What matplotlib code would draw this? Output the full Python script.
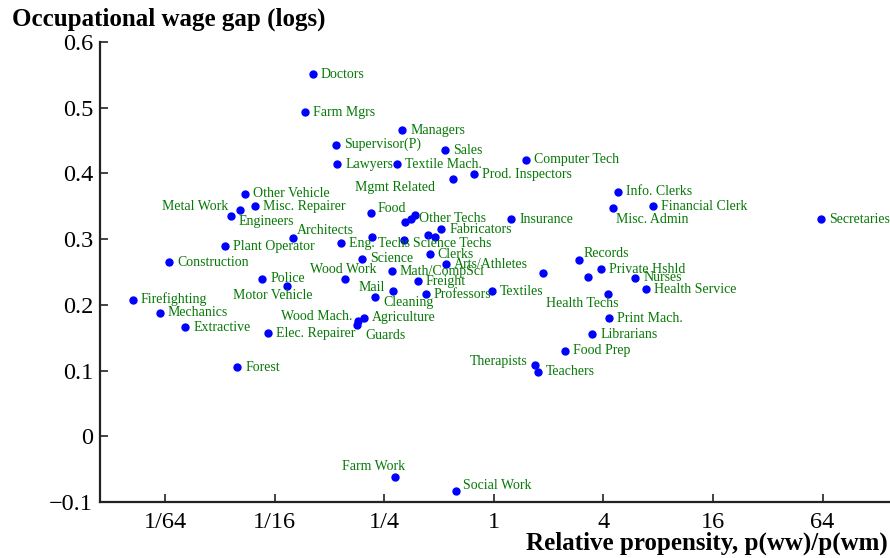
import matplotlib
matplotlib.use("Agg")
import matplotlib.pyplot as plt

plt.rcParams['font.family'] = ['Liberation Serif', 'DejaVu Serif']

# occupations: relative propensity p(ww)/p(wm) and wage gap (logs)
occupations = [
    "Doctors", "Farm Mgrs", "Managers", "Supervisor(P)", "Sales", "Lawyers",
    "Textile Mach.", "Prod. Inspectors", "Mgmt Related", "Computer Tech",
    "Other Vehicle", "Metal Work", "Misc. Repairer", "Engineers", "Food",
    "", "Other Techs", "", "Fabricators", "", "", "Architects", "",
    "Eng. Techs", "Science Techs", "Plant Operator", "Construction", "Science",
    "Clerks", "Arts/Athletes", "Police", "Wood Work", "Math/CompSci",
    "Motor Vehicle", "Freight", "Mail", "Cleaning", "Professors", "Textiles",
    "Firefighting", "Mechanics", "Extractive", "Guards", "Wood Mach.",
    "Agriculture", "Elec. Repairer", "Forest", "Info. Clerks", "Financial Clerk",
    "Misc. Admin", "Insurance", "Secretaries", "Records", "Private Hshld", "", "",
    "Nurses", "Health Service", "Health Techs", "Print Mach.", "Librarians",
    "Food Prep", "Therapists", "Teachers", "Farm Work", "Social Work",
]
propensity = [
    0.1008, 0.0915, 0.314, 0.135, 0.540, 0.138,
    0.293, 0.774, 0.595, 1.495,
    0.0430, 0.0404, 0.0487, 0.0359, 0.212,
    0.325, 0.351, 0.369, 0.514, 0.432, 0.473, 0.0786, 0.213,
    0.145, 0.321, 0.0335, 0.0164, 0.188,
    0.444, 0.543, 0.0533, 0.152, 0.274,
    0.0733, 0.381, 0.279, 0.222, 0.423, 0.973,
    0.0104, 0.0146, 0.0201, 0.176, 0.179,
    0.193, 0.0576, 0.0390, 4.79, 7.46,
    4.50, 1.248, 63.1, 2.93, 3.86, 1.853, 3.27,
    5.98, 6.82, 4.23, 4.29, 3.48,
    2.45, 1.68, 1.74, 0.285, 0.616,
]
wage_gap = [
    0.551, 0.493, 0.466, 0.444, 0.435, 0.414,
    0.414, 0.399, 0.392, 0.421,
    0.369, 0.344, 0.350, 0.335, 0.340,
    0.326, 0.331, 0.336, 0.315, 0.307, 0.304, 0.301, 0.303,
    0.294, 0.299, 0.289, 0.265, 0.270,
    0.277, 0.262, 0.240, 0.239, 0.251,
    0.228, 0.236, 0.221, 0.212, 0.216, 0.221,
    0.208, 0.188, 0.166, 0.170, 0.175,
    0.180, 0.157, 0.105, 0.372, 0.350,
    0.348, 0.330, 0.330, 0.269, 0.254, 0.249, 0.243,
    0.241, 0.224, 0.216, 0.180, 0.155,
    0.130, 0.109, 0.098, -0.062, -0.083,
]

x_ticks = [1/64, 1/16, 1/4, 1, 4, 16, 64]
x_tick_labels = ["1/64", "1/16", "1/4", "1", "4", "16", "64"]
y_ticks = [-0.1, 0, 0.1, 0.2, 0.3, 0.4, 0.5, 0.6]
y_tick_labels = ["\u22120.1", "0", "0.1", "0.2", "0.3", "0.4", "0.5", "0.6"]

# label placement tweaks (pixel offsets, alignment) for crowded spots
label_place = {
    "Mgmt Related": (-18, -9, 'right'),
    "Metal Work": (-12, 4, 'right'),
    "Engineers": (8, -5, 'left'),
    "Architects": (4, 8, 'left'),
    "Science Techs": (9, -4, 'left'),
    "Wood Work": (-2, 10, 'center'),
    "Motor Vehicle": (-15, -9, 'center'),
    "Mail": (-8, 4, 'right'),
    "Cleaning": (8, -6, 'left'),
    "Guards": (9, -11, 'left'),
    "Wood Mach.": (-6, 5, 'right'),
    "Misc. Admin": (3, -12, 'left'),
    "Records": (5, 6, 'left'),
    "Health Techs": (-26, -9, 'center'),
    "Therapists": (-7, 3, 'right'),
    "Farm Work": (-21, 11, 'center'),
    "Social Work": (7, 5, 'left'),
    "Food": (6, 4, 'left'),
}

fig = plt.figure(figsize=(8.9, 5.58), dpi=100)
ax = fig.add_axes([100/890, 1 - 502/558, 1 - 100/890, (502 - 42)/558])

ax.plot(propensity, wage_gap, 'o', color='#0000ff', markersize=5, clip_on=False)

for name, xv, yv in zip(occupations, propensity, wage_gap):
    if not name:
        continue
    dx, dy, ha = label_place.get(name, (8, 0, 'left'))
    ax.annotate(name, (xv, yv), xytext=(dx, dy), textcoords='offset pixels',
                ha=ha, va='center', fontsize=10, color='#067806',
                annotation_clip=False)

ax.set_xscale('log', base=2)
ax.set_xlim(2**-7.19, 2**7.23)
ax.set_ylim(-0.1, 0.6)
ax.set_xticks(x_ticks)
ax.set_xticklabels(x_tick_labels)
ax.set_yticks(y_ticks)
ax.set_yticklabels(y_tick_labels)
ax.minorticks_off()
ax.tick_params(direction='in', length=6, width=1.2, labelsize=17.5, pad=5,
               color='#222222')
ax.tick_params(axis='x', pad=7)

for side in ['top', 'right']:
    ax.spines[side].set_visible(False)
for side in ['left', 'bottom']:
    ax.spines[side].set_linewidth(1.6)
    ax.spines[side].set_color('#222222')

fig.text(12/890, 1 - 19/558, "Occupational wage gap (logs)", fontsize=18,
         fontweight='bold', ha='left', va='center')
fig.text(888/890, 1 - 543/558, "Relative propensity, p(ww)/p(wm)", fontsize=18,
         fontweight='bold', ha='right', va='center')

fig.savefig("out.png", dpi=100)
